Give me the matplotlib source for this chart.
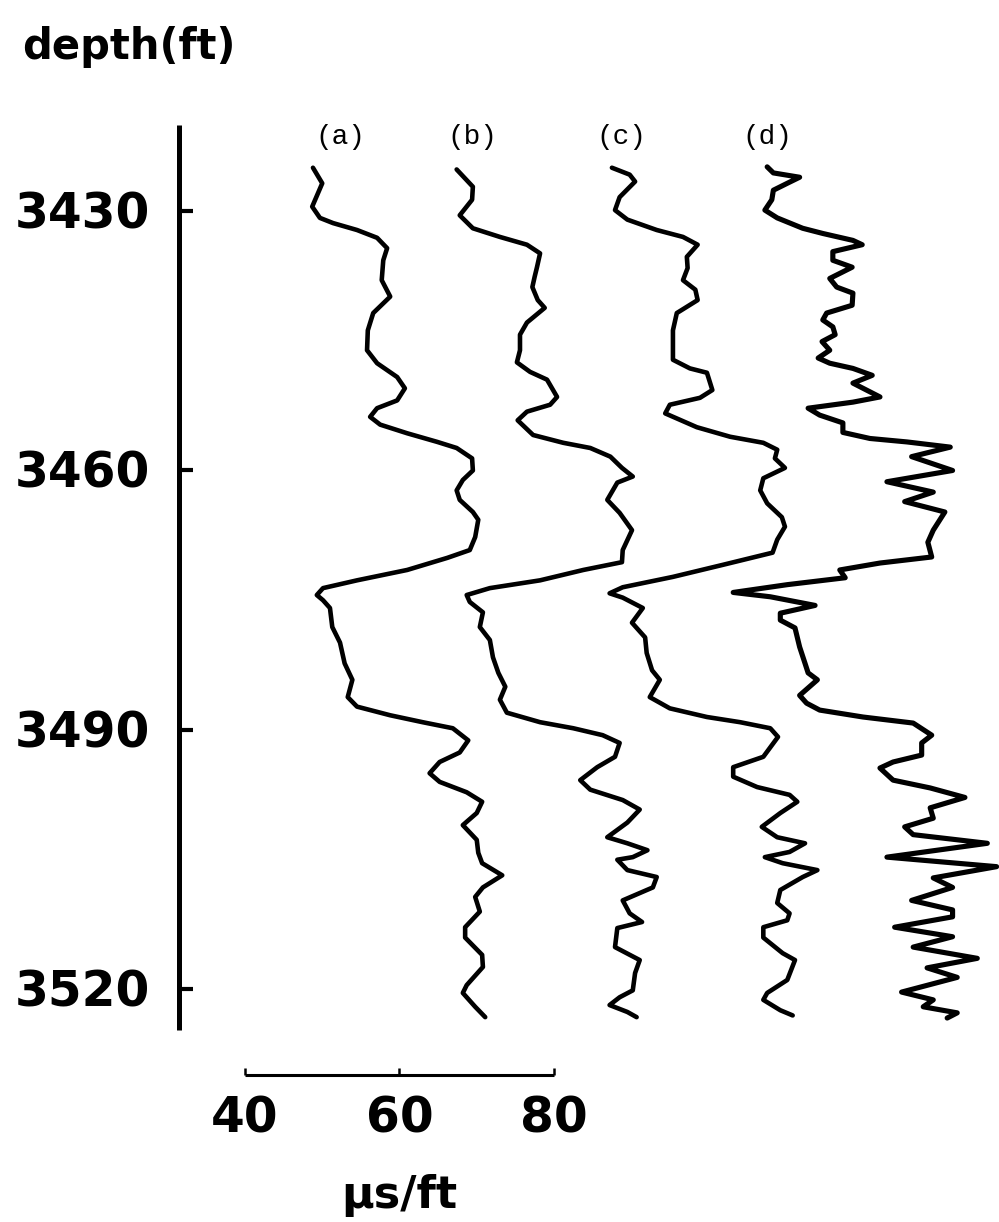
import numpy as np
import matplotlib
matplotlib.use("Agg")
import matplotlib.pyplot as plt

# Sonic logs (slowness, us/ft) against depth (ft), four versions of the same interval
depth_a = [3425.0, 3426.8, 3429.5, 3430.8, 3431.4, 3432.2, 3433.1, 3434.3, 3435.7, 3438.0,
           3439.9, 3441.8, 3443.8, 3446.1, 3447.6, 3449.2, 3450.5, 3451.9, 3452.8, 3453.8,
           3454.7, 3455.7, 3456.7, 3457.4, 3458.6, 3460.0, 3461.1, 3462.3, 3463.4, 3464.8,
           3465.7, 3467.7, 3469.2, 3470.1, 3471.5, 3472.7, 3473.6, 3474.4, 3475.0, 3475.9,
           3478.1, 3479.9, 3482.3, 3484.2, 3486.2, 3487.3, 3488.3, 3489.1, 3489.8, 3491.2,
           3492.6, 3493.7, 3495.0, 3496.0, 3497.2, 3498.3, 3499.6, 3501.0, 3502.7, 3504.2,
           3505.4, 3506.8, 3508.2, 3509.3, 3511.0, 3512.8, 3514.0, 3516.0, 3517.4, 3519.5,
           3520.4, 3522.0, 3523.2]
slow_a = [48.8, 50.0, 48.7, 49.7, 51.4, 54.5, 57.1, 58.4, 57.9, 57.7,
          58.8, 56.6, 55.9, 55.8, 57.1, 59.7, 60.7, 59.7, 57.1, 56.2,
          57.5, 61.0, 64.9, 67.4, 69.4, 69.5, 68.2, 67.4, 67.8, 69.5,
          70.2, 69.8, 69.1, 66.2, 61.0, 54.5, 50.1, 49.3, 50.1, 51.0,
          51.3, 52.3, 52.9, 53.9, 53.3, 54.5, 58.8, 63.0, 66.9, 68.9,
          67.8, 65.2, 63.9, 65.2, 68.7, 70.7, 70.0, 68.2, 70.0, 70.2,
          70.7, 73.3, 70.8, 69.8, 70.4, 68.5, 68.5, 70.7, 70.8, 68.7,
          68.2, 69.8, 71.1]

depth_b = [3425.2, 3427.2, 3428.7, 3430.5, 3432.0, 3433.0, 3433.9, 3434.9, 3436.5, 3437.6,
           3438.8, 3440.3, 3441.2, 3442.9, 3444.3, 3446.1, 3447.5, 3448.6, 3449.5, 3451.5,
           3452.4, 3453.2, 3454.2, 3455.9, 3456.8, 3457.4, 3458.4, 3459.7, 3460.7, 3461.4,
           3463.4, 3464.9, 3466.9, 3469.2, 3470.6, 3471.5, 3472.7, 3473.6, 3474.4, 3475.2,
           3476.4, 3478.1, 3479.6, 3481.6, 3483.4, 3485.0, 3486.5, 3488.0, 3489.1, 3489.8,
           3490.6, 3491.5, 3493.1, 3494.3, 3495.8, 3496.9, 3498.1, 3499.2, 3500.7, 3502.4,
           3503.1, 3503.9, 3504.7, 3505.0, 3506.2, 3507.0, 3508.2, 3509.7, 3511.2, 3512.2,
           3512.9, 3515.1, 3516.6, 3518.1, 3520.1, 3520.9, 3521.8, 3522.6, 3523.2]
slow_b = [47.4, 49.5, 49.4, 47.8, 49.5, 53.0, 56.5, 58.2, 57.8, 57.5,
          57.2, 57.9, 58.8, 56.5, 55.6, 55.6, 55.2, 56.9, 59.1, 60.4,
          59.5, 56.5, 55.3, 57.3, 61.2, 64.7, 67.3, 68.8, 70.2, 68.2,
          66.9, 68.5, 70.1, 68.9, 68.8, 63.8, 58.2, 51.7, 48.7, 49.1,
          50.8, 50.4, 51.7, 52.1, 52.8, 53.7, 53.0, 53.9, 58.2, 62.5,
          66.3, 68.5, 67.9, 65.6, 63.4, 64.7, 68.9, 71.1, 69.5, 66.9,
          69.5, 72.1, 70.2, 68.2, 69.5, 73.3, 72.8, 68.9, 69.8, 71.4,
          68.2, 67.9, 71.1, 70.5, 70.2, 68.5, 67.2, 69.5, 70.7]

depth_c = [3425.0, 3425.8, 3426.6, 3428.4, 3429.9, 3431.0, 3432.2, 3433.0, 3433.9, 3435.3,
           3436.6, 3438.0, 3439.1, 3440.3, 3441.8, 3443.8, 3446.1, 3447.2, 3448.2, 3448.7,
           3450.7, 3451.6, 3452.4, 3453.4, 3455.0, 3456.1, 3456.8, 3457.6, 3458.6, 3459.7,
           3460.9, 3462.3, 3463.8, 3465.4, 3466.5, 3468.0, 3469.5, 3470.9, 3472.3, 3473.5,
           3474.2, 3474.7, 3475.9, 3477.6, 3479.3, 3481.1, 3483.1, 3484.2, 3486.2, 3487.5,
           3488.5, 3489.1, 3489.8, 3490.8, 3493.1, 3494.3, 3495.4, 3496.6, 3497.5, 3498.3,
           3499.6, 3501.2, 3502.4, 3503.1, 3504.1, 3504.7, 3505.4, 3506.2, 3507.0, 3508.5,
           3510.0, 3511.2, 3512.0, 3512.8, 3514.0, 3515.8, 3516.6, 3518.9, 3520.4, 3521.2,
           3522.4, 3523.0]
slow_c = [47.5, 49.8, 50.5, 48.5, 47.9, 49.5, 53.3, 56.7, 58.6, 57.2,
          57.3, 56.7, 58.3, 58.6, 55.9, 55.4, 55.4, 55.4, 57.6, 59.8,
          60.5, 58.9, 55.0, 54.4, 58.5, 62.8, 67.1, 68.9, 68.6, 69.9,
          67.1, 66.7, 67.6, 69.5, 69.9, 68.9, 68.3, 61.9, 55.4, 48.9,
          47.2, 48.9, 51.5, 50.1, 51.8, 52.0, 52.7, 53.7, 52.4, 55.0,
          59.8, 64.1, 68.0, 69.0, 67.1, 63.2, 63.2, 66.3, 70.5, 71.5,
          69.3, 66.9, 68.9, 72.5, 70.5, 67.3, 69.6, 74.1, 72.2, 69.3,
          68.9, 70.5, 70.2, 67.1, 67.1, 69.6, 71.2, 70.2, 67.6, 67.1,
          69.3, 70.9]

depth_d = [3424.9, 3425.6, 3426.1, 3426.8, 3427.6, 3428.7, 3429.9, 3430.8, 3432.0, 3432.6,
           3433.4, 3433.9, 3434.7, 3435.7, 3436.5, 3437.8, 3438.8, 3439.5, 3440.9, 3441.8,
           3442.6, 3443.4, 3444.3, 3445.1, 3446.1, 3447.0, 3447.6, 3448.2, 3449.0, 3449.9,
           3451.5, 3452.1, 3452.8, 3453.6, 3454.5, 3455.6, 3456.3, 3456.7, 3457.3, 3458.4,
           3460.0, 3461.3, 3462.5, 3463.6, 3464.8, 3466.9, 3468.3, 3470.0, 3470.7, 3471.5,
           3472.4, 3473.2, 3474.1, 3474.6, 3475.6, 3476.5, 3477.3, 3478.2, 3480.4, 3482.3,
           3483.4, 3484.2, 3486.0, 3486.9, 3487.7, 3488.5, 3489.2, 3490.6, 3491.5, 3492.9,
           3493.7, 3494.4, 3495.8, 3496.7, 3497.8, 3499.0, 3500.2, 3501.2, 3502.1, 3503.1,
           3504.7, 3505.8, 3507.1, 3508.2, 3509.7, 3510.8, 3511.6, 3512.8, 3513.9, 3515.1,
           3516.4, 3517.5, 3518.6, 3520.3, 3521.2, 3522.0, 3522.7, 3523.3]
slow_d = [47.6, 48.4, 51.8, 50.2, 48.4, 48.2, 47.3, 48.9, 52.2, 54.8,
          58.7, 59.9, 56.1, 56.1, 58.6, 55.7, 56.6, 58.7, 58.6, 55.3,
          54.8, 56.1, 56.4, 54.7, 55.7, 54.2, 55.7, 58.7, 61.2, 58.7,
          62.2, 58.7, 52.9, 54.4, 57.4, 57.4, 60.9, 65.7, 71.3, 66.3,
          71.6, 63.1, 69.1, 65.4, 70.6, 69.1, 68.4, 68.9, 62.2, 57.0,
          57.7, 50.2, 43.2, 48.0, 53.8, 49.3, 49.3, 51.2, 51.8, 52.5,
          52.9, 54.1, 51.8, 52.7, 54.4, 60.0, 66.5, 68.9, 67.6, 67.6,
          63.9, 62.2, 63.9, 68.7, 73.2, 68.7, 69.1, 65.4, 66.5, 76.1,
          63.1, 77.3, 69.1, 71.6, 66.3, 71.6, 71.6, 64.1, 71.6, 66.5,
          74.8, 68.3, 72.2, 65.0, 69.1, 67.8, 72.2, 70.9]

curve_labels = ["(a)", "(b)", "(c)", "(d)"]
depth_ticks = [3430, 3460, 3490, 3520]
scale_ticks = [40, 60, 80]

# each log is shifted right by 20 us/ft so they sit side by side
offsets = [0, 20, 40, 60]
label_x = [52.3, 69.4, 88.7, 107.6]
line_w = [3.3, 3.3, 3.3, 3.7]

fig = plt.figure(figsize=(9.99, 12.22), dpi=100)
ax = fig.add_axes([0, 0, 1, 1])
ax.set_xlim(8.285, 137.61)
ax.set_ylim(3546.88, 3405.61)
ax.axis("off")

logs = [(depth_a, slow_a), (depth_b, slow_b), (depth_c, slow_c), (depth_d, slow_d)]
for (dep, slo), off, lab, lx, lw in zip(logs, offsets, curve_labels, label_x, line_w):
    ax.plot(np.array(slo) + off, dep, color="black", lw=lw,
            solid_joinstyle="round", solid_capstyle="round")
    ax.text(lx, 3421.4, lab, ha="center", va="center", fontsize=20,
            family="Liberation Mono", color="black")

# depth axis
axis_x = 31.4
ax.plot([axis_x, axis_x], [3420.1, 3524.7], color="black", lw=3.6, solid_capstyle="butt")
for d in depth_ticks:
    ax.plot([axis_x, axis_x + 1.9], [d, d], color="black", lw=3.0, solid_capstyle="butt")
    ax.text(27.7, d + 2.0, str(d), ha="right", va="baseline", fontsize=35,
            fontweight="bold", family="DejaVu Sans")
ax.text(11.2, 3412.4, "depth(ft)", ha="left", va="baseline", fontsize=30,
        fontweight="bold", family="DejaVu Sans")

# slowness scale bar
bar_y = 3529.9
ax.plot([scale_ticks[0], scale_ticks[-1]], [bar_y, bar_y], color="black", lw=2.2,
        solid_capstyle="butt")
for v in scale_ticks:
    ax.plot([v, v], [bar_y, bar_y - 0.8], color="black", lw=1.8, solid_capstyle="butt")
    ax.text(v, 3536.5, str(v), ha="center", va="baseline", fontsize=35,
            fontweight="bold", family="DejaVu Sans")
ax.text(60, 3545.3, "\u00b5s/ft", ha="center", va="baseline", fontsize=32,
        fontweight="bold", family="DejaVu Sans")

fig.savefig("out.png", dpi=100, facecolor="white")
